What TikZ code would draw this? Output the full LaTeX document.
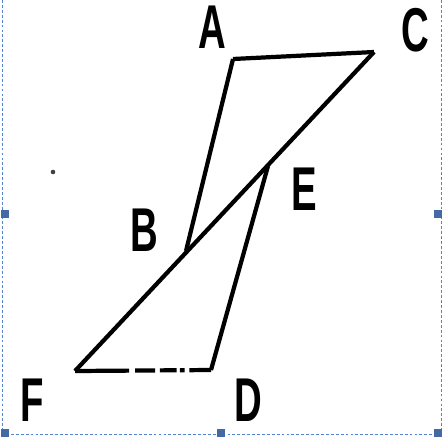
\documentclass[tikz,border=0pt]{standalone}
\usepackage{fontspec}
\setsansfont{Liberation Sans}
\usetikzlibrary{positioning}
\definecolor{selblue}{RGB}{84,130,205}
\definecolor{handle}{RGB}{68,106,166}

\begin{document}
\begin{tikzpicture}[x=0.025cm, y=-0.025cm, line width=3pt,
	lbl/.style={font=\sffamily\bfseries\fontsize{44}{44}\selectfont,
	xscale=0.62, inner sep=0pt},
	hnd/.style={fill=handle, draw=none, minimum size=0.2cm, inner sep=0pt}]
\useasboundingbox (0, 0) rectangle (445, 436);
% selection frame
\draw[selblue, line width=0.6pt, dash pattern=on 2pt off 1.5pt] (2, 0) -- (2, 434) -- (441, 434) -- (441, 0);
\node[hnd] (h1) at (5, 214) {};
\node[hnd] (h2) at (438, 214) {};
\node[hnd] (h3) at (221, 433) {};
\node[hnd] (h4) at (5, 433) {};
\node[hnd] (h5) at (438, 433) {};
% points
\coordinate (a) at (233, 59);
\coordinate (c) at (374, 52);
\coordinate (e) at (268, 166);
\coordinate (b) at (186, 251);
\coordinate (f) at (75, 371);
\coordinate (d) at (211, 370);
\node[lbl] (la) at (212, 27) {A};
\node[lbl] (lc) at (415, 30) {C};
\node[lbl] (le) at (304, 189) {E};
\node[lbl] (lb) at (144, 230) {B};
\node[lbl] (lf) at (32, 400) {F};
\node[lbl] (ld) at (248, 400) {D};
\fill[black!75] (53, 172) circle (2.3);
\draw (a) to (c);
\draw (a) to (b);
\draw (c) to (f);
\draw (e) to (d);
\draw[dash pattern=on 1.35cm off 0.15cm on 0.5cm off 0.12cm on 0.42cm off 0.08cm on 0.12cm off 0.12cm on 0.6cm] (f) to (d);
\end{tikzpicture}
\end{document}
